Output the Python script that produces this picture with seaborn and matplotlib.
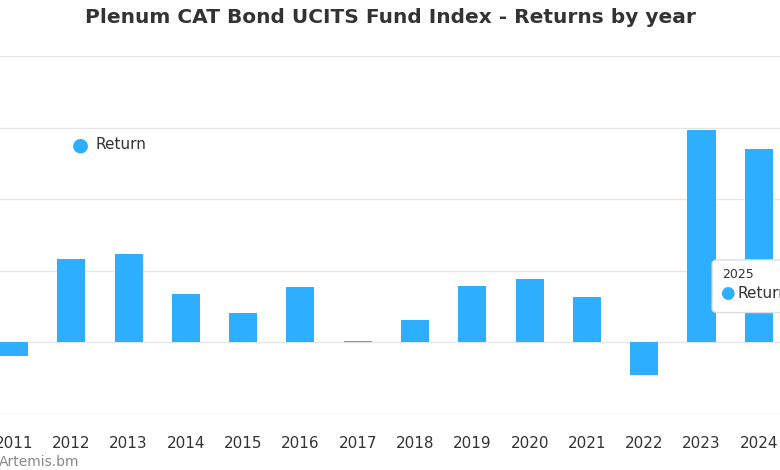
import matplotlib
matplotlib.use("Agg")
import matplotlib.pyplot as plt
from matplotlib.patches import FancyBboxPatch
import seaborn as sns
import pandas as pd

years = [str(y) for y in range(2011, 2025)]
returns = [-0.98, 5.79, 6.2, 3.35, 2.09, 3.9, 0.07, 1.6, 3.97, 4.46, 3.14, -2.3, 14.85, 13.5]

BLUE = "#2eaeff"
df = pd.DataFrame({"year": years, "ret": returns})

fig = plt.figure(figsize=(7.8, 4.7), dpi=100)
ax = fig.add_axes([0, 0.119, 1, 0.762])
sns.barplot(data=df, x="year", y="ret", color=BLUE, width=0.49, saturation=1, ax=ax)

ax.set_xlim(-0.244, 13.37)
ax.set_ylim(-5, 20)
ax.set_yticks([-5, 0, 5, 10, 15, 20])
ax.grid(axis="y", color="#e6e6e6", lw=1)
ax.set_axisbelow(True)
for s in ax.spines.values():
    s.set_visible(False)
ax.tick_params(axis="y", left=False, labelleft=False)
ax.tick_params(axis="x", bottom=False, labelsize=11, labelcolor="#333333", pad=12)
ax.set_xlabel("")
ax.set_ylabel("")

fig.text(0.5, 0.962, "Plenum CAT Bond UCITS Fund Index - Returns by year",
         ha="center", va="center", fontsize=14.5, fontweight="bold", color="#333333")
fig.text(-0.002, 0.018, "Artemis.bm", ha="left", va="center", fontsize=10, color="#888888")

# legend
fig.text(0.103, 0.692, "\u25CF", ha="center", va="center", fontsize=14, color=BLUE)
fig.text(0.122, 0.692, "Return", ha="left", va="center", fontsize=11, color="#333333")

# tooltip
tip = FancyBboxPatch((0.913, 0.335), 0.12, 0.112, boxstyle="round,pad=0,rounding_size=0.008",
                     transform=fig.transFigure, facecolor="white", edgecolor="#dddddd",
                     lw=1, zorder=5)
fig.patches.append(tip)
fig.text(0.926, 0.415, "2025", ha="left", va="center", fontsize=9, color="#333333", zorder=6)
fig.text(0.933, 0.376, "\u25CF", ha="center", va="center", fontsize=12, color=BLUE, zorder=6)
fig.text(0.945, 0.376, "Return", ha="left", va="center", fontsize=11, color="#333333", zorder=6)

fig.savefig("out.png", dpi=100)
